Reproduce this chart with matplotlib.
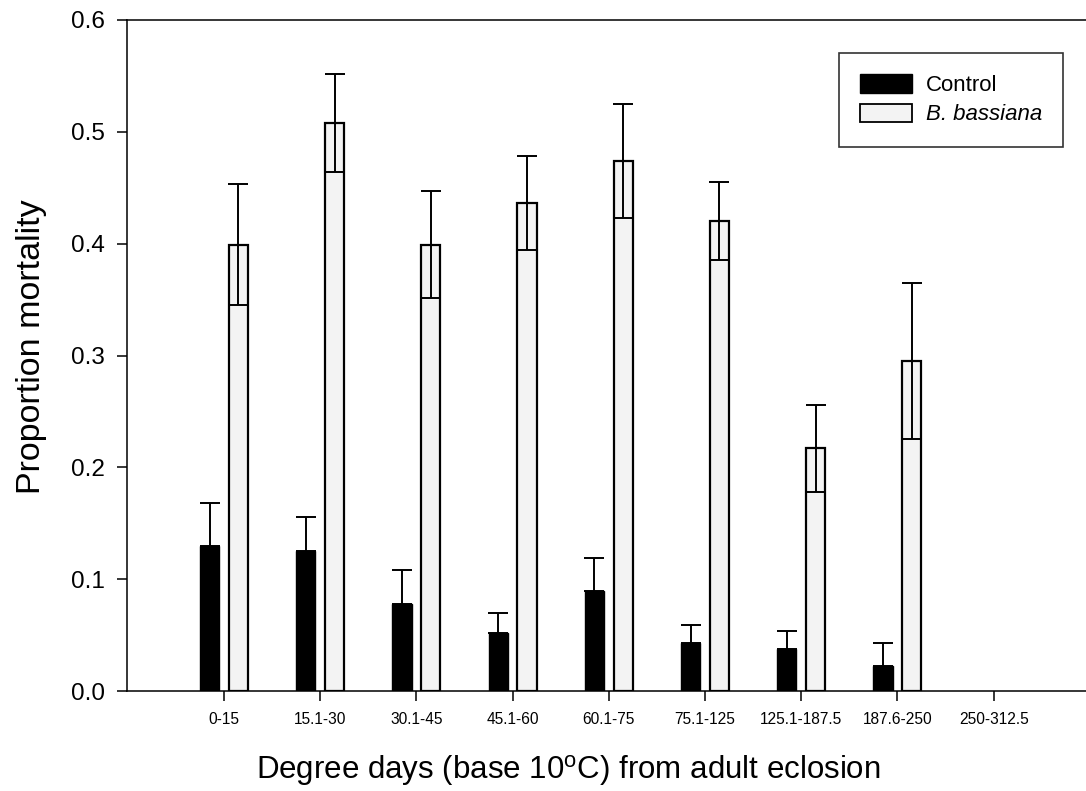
import matplotlib
matplotlib.use("Agg")
import matplotlib.pyplot as plt
import numpy as np
from matplotlib.patches import Patch

plt.rcParams['font.family'] = ['Liberation Sans', 'DejaVu Sans']
plt.rcParams['mathtext.fontset'] = 'custom'
plt.rcParams['mathtext.rm'] = 'Liberation Sans'
plt.rcParams['mathtext.it'] = 'Liberation Sans:italic'

categories = ['0-15', '15.1-30', '30.1-45', '45.1-60', '60.1-75', '75.1-125',
              '125.1-187.5', '187.6-250', '250-312.5']
control = [0.130, 0.125, 0.078, 0.052, 0.089, 0.043, 0.038, 0.022, 0.0]
control_err = [0.038, 0.031, 0.030, 0.018, 0.030, 0.016, 0.016, 0.021, 0.0]
bassiana = [0.399, 0.508, 0.399, 0.436, 0.474, 0.420, 0.217, 0.295, 0.0]
bassiana_err = [0.054, 0.044, 0.048, 0.042, 0.051, 0.035, 0.039, 0.070, 0.0]

fig = plt.figure(figsize=(10.86, 7.91), dpi=100)
ax = fig.add_axes([127/1086, 100/791, 1 - 127/1086, 671/791])

x = np.arange(len(categories))
w = 0.2
off = 0.15
c = np.array(control)
ce = np.array(control_err)
b = np.array(bassiana)
be = np.array(bassiana_err)
cm = c > 0
bm = b > 0

ax.bar(x[cm] - off, c[cm], width=w, color='black', edgecolor='black', linewidth=1.0, zorder=2)
ax.bar(x[bm] + off, b[bm], width=w, color='#f3f3f3', edgecolor='black', linewidth=1.6, zorder=2)

ax.errorbar(x[cm] - off, c[cm], yerr=[np.zeros(cm.sum()), ce[cm]],
            fmt='none', ecolor='black', elinewidth=1.4, capsize=7.2, capthick=1.4, zorder=3)
ax.errorbar(x[bm] + off, b[bm], yerr=be[bm],
            fmt='none', ecolor='black', elinewidth=1.4, capsize=7.2, capthick=1.4, zorder=3)

ax.set_xlim(-1.008, 8.96)
ax.set_ylim(0, 0.6)
yt = np.arange(0, 0.61, 0.1)
ax.set_yticks(yt)
ax.set_yticklabels([f'{v:.1f}' for v in yt], fontsize=17.5)
ax.set_xticks(x)
ax.set_xticklabels(categories, fontsize=11.2)

ax.tick_params(axis='y', direction='out', length=7, width=1.1, pad=9)
ax.tick_params(axis='x', direction='out', length=7, width=1.1, pad=8)

ax.spines['right'].set_visible(False)
for s in ['left', 'bottom', 'top']:
    ax.spines[s].set_linewidth(1.1)

ax.set_ylabel('Proportion mortality', fontsize=24.5)
ax.yaxis.set_label_coords((47 - 127) / 959, (691 - 347) / 671)
ax.set_xlabel(r'Degree days (base 10$^{\mathrm{o}}$C) from adult eclosion', fontsize=22.5)
ax.xaxis.set_label_coords((568 - 127) / 959, (691 - 753) / 671)

handles = [Patch(facecolor='black', edgecolor='black', label='Control'),
           Patch(facecolor='#f3f3f3', edgecolor='black', linewidth=1.3, label='B. bassiana')]
leg = ax.legend(handles=handles, loc='upper right',
                bbox_to_anchor=((1063 - 127) / 959, (691 - 53) / 671),
                fontsize=16, frameon=True, fancybox=False, edgecolor='black',
                handlelength=2.35, handleheight=0.9, borderpad=0.95, labelspacing=0.34,
                handletextpad=0.6, borderaxespad=0)
leg.get_frame().set_linewidth(1.2)
leg.get_texts()[1].set_fontstyle('italic')

fig.savefig('out.png', dpi=100)
